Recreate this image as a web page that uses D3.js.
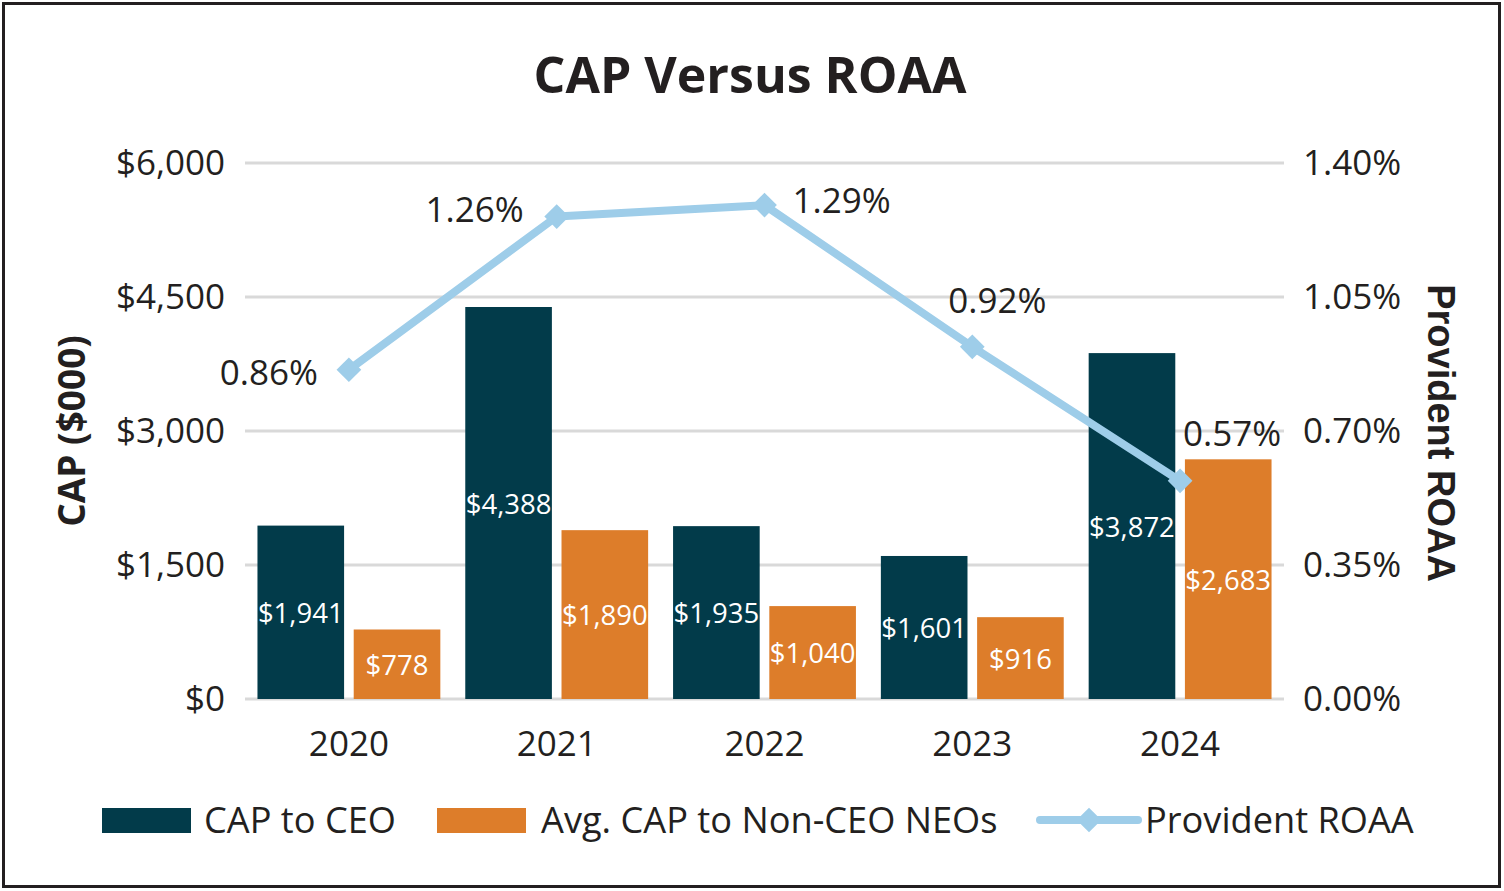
<!DOCTYPE html>
<html><head><meta charset="utf-8">
<script src="https://cdn.jsdelivr.net/npm/d3@7"></script>
<style>body{margin:0;background:#fff}svg{display:block}text{font-family:"Open Sans",sans-serif;fill:#231f20}</style>
</head><body><svg id="c" width="1504" height="891"></svg>
<script>
const years = ["2020","2021","2022","2023","2024"];
const capCEO = [1941, 4388, 1935, 1601, 3872];
const capNEO = [778, 1890, 1040, 916, 2683];
const roaa = [0.86, 1.26, 1.29, 0.92, 0.57];
const roaaLabelPlace = ["left","leftUp","right","above","aboveRight"];
const leftTicks = [0, 1500, 3000, 4500, 6000];
const rightTicks = [0, 0.35, 0.70, 1.05, 1.40];
const seriesNames = ["CAP to CEO","Avg. CAP to Non-CEO NEOs","Provident ROAA"];

const C_CEO="#023b4a", C_NEO="#dd7d2a", C_LINE="#9ecde9", C_GRID="#d9d9d9";
const svg=d3.select("#c");
svg.append("rect").attr("x",3.5).attr("y",3.5).attr("width",1496).attr("height",883)
  .attr("fill","#fff").attr("stroke","#231f20").attr("stroke-width",3);

const L=245,R=1284,T=163,B=699;
const x=d3.scaleBand().domain(years).range([L,R]).paddingInner(0.12).paddingOuter(0.06);
const xs=d3.scaleBand().domain([0,1]).range([0,x.bandwidth()]).paddingInner(0.1);
const yL=d3.scaleLinear().domain([0,6000]).range([B,T]);
const yR=d3.scaleLinear().domain([0,1.4]).range([B,T]);

svg.append("text").attr("x",750).attr("y",74).attr("text-anchor","middle").attr("dominant-baseline","central")
  .style("font-size","50px").style("font-weight","700").text("CAP Versus ROAA");

// gridlines
svg.append("g").selectAll("line").data(leftTicks).join("line")
  .attr("x1",L).attr("x2",R).attr("y1",d=>yL(d)).attr("y2",d=>yL(d))
  .attr("stroke",C_GRID).attr("stroke-width",3);

// left axis
const axL=svg.append("g").attr("transform",`translate(${L},0)`)
  .call(d3.axisLeft(yL).tickValues(leftTicks).tickSize(0).tickPadding(20).tickFormat(d=>"$"+d3.format(",")(d)));
axL.select(".domain").remove();
axL.selectAll("text").style("font-size","35px").style("font-family","Open Sans").attr("fill","#231f20");
// right axis
const axR=svg.append("g").attr("transform",`translate(${R},0)`)
  .call(d3.axisRight(yR).tickValues(rightTicks).tickSize(0).tickPadding(19).tickFormat(d=>d3.format(".2f")(d)+"%"));
axR.select(".domain").remove();
axR.selectAll("text").style("font-size","35px").style("font-family","Open Sans").attr("fill","#231f20");
// x axis
const axX=svg.append("g").attr("transform",`translate(0,${B})`)
  .call(d3.axisBottom(x).tickSize(0).tickPadding(32));
axX.select(".domain").remove();
axX.selectAll("text").style("font-size","35px").style("font-family","Open Sans").attr("fill","#231f20");

// axis titles
svg.append("text").attr("transform","translate(70,431) rotate(-90)").attr("text-anchor","middle")
  .attr("dominant-baseline","central").style("font-size","37px").style("font-weight","700").text("CAP ($000)");
svg.append("text").attr("transform","translate(1441,433) rotate(90)").attr("text-anchor","middle")
  .attr("dominant-baseline","central").style("font-family","Liberation Sans, Arial, sans-serif")
  .style("font-size","38px").style("font-weight","700").text("Provident ROAA");

// bars
const series=[{vals:capCEO,color:C_CEO},{vals:capNEO,color:C_NEO}];
series.forEach((s,si)=>{
  const g=svg.append("g");
  g.selectAll("rect").data(s.vals).join("rect")
    .attr("x",(d,i)=>x(years[i])+xs(si)).attr("width",xs.bandwidth())
    .attr("y",d=>yL(d)).attr("height",d=>B-yL(d)).attr("fill",s.color);
  g.selectAll("text").data(s.vals).join("text")
    .attr("x",(d,i)=>x(years[i])+xs(si)+xs.bandwidth()/2)
    .attr("y",d=>(yL(d)+B)/2).attr("text-anchor","middle").attr("dominant-baseline","central")
    .style("font-size","27.5px").style("fill","#fff").text(d=>"$"+d3.format(",")(d));
});

// line
const cx=i=>x(years[i])+x.bandwidth()/2;
const line=d3.line().x((d,i)=>cx(i)).y(d=>yR(d));
svg.append("path").datum(roaa).attr("d",line).attr("fill","none").attr("stroke",C_LINE)
  .attr("stroke-width",8).attr("stroke-linejoin","round");
const diamond=d3.symbol().type(d3.symbolDiamond2).size(390);
svg.append("g").selectAll("path").data(roaa).join("path")
  .attr("d",diamond).attr("transform",(d,i)=>`translate(${cx(i)},${yR(d)})`).attr("fill",C_LINE);

const place={left:{dx:-31,dy:2,a:"end"},leftUp:{dx:-33,dy:-8,a:"end"},right:{dx:28,dy:-6,a:"start"},
  above:{dx:25,dy:-47,a:"middle"},aboveRight:{dx:52,dy:-48,a:"middle"}};
svg.append("g").selectAll("text").data(roaa).join("text")
  .attr("x",(d,i)=>cx(i)+place[roaaLabelPlace[i]].dx).attr("y",(d,i)=>yR(d)+place[roaaLabelPlace[i]].dy)
  .attr("text-anchor",(d,i)=>place[roaaLabelPlace[i]].a).attr("dominant-baseline","central")
  .style("font-size","35px").text(d=>d3.format(".2f")(d)+"%");

// legend
const lg=svg.append("g");
const legX=[102,437,1040];
lg.append("rect").attr("x",legX[0]).attr("y",808).attr("width",89).attr("height",25).attr("fill",C_CEO);
lg.append("rect").attr("x",legX[1]).attr("y",808).attr("width",89).attr("height",25).attr("fill",C_NEO);
lg.append("line").attr("x1",legX[2]).attr("x2",legX[2]+98).attr("y1",820).attr("y2",820)
  .attr("stroke",C_LINE).attr("stroke-width",8).attr("stroke-linecap","round");
lg.append("path").attr("d",diamond).attr("transform",`translate(${legX[2]+49},820)`).attr("fill",C_LINE);
lg.selectAll("text").data(seriesNames).join("text")
  .attr("x",(d,i)=>legX[i]+[102,104,105][i]).attr("y",819).attr("dominant-baseline","central")
  .style("font-size","36.2px").text(d=>d);
</script></body></html>
